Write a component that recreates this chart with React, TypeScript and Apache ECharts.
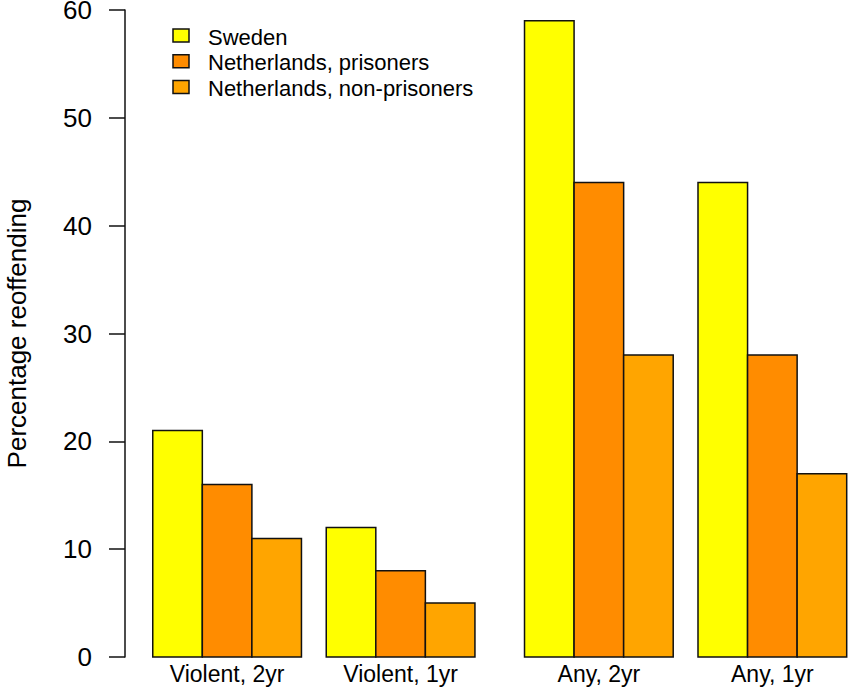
import React, { useEffect, useRef } from "react";
import * as echarts from "echarts";

const categories = ["Violent, 2yr", "Violent, 1yr", "Any, 2yr", "Any, 1yr"];
const seriesNames = ["Sweden", "Netherlands, prisoners", "Netherlands, non-prisoners"];
const sweden = [21, 12, 59, 44];
const nlPrisoners = [16, 8, 44, 28];
const nlNonPrisoners = [11, 5, 28, 17];
const colors = ["#FFFF00", "#FF8C00", "#FFA500"];
const yTicks = [0, 10, 20, 30, 40, 50, 60];

// layout (bar-width units): left edge of each group
const groupStart = [0, 3.5, 7.5, 11];
const groupCenters = groupStart.map((g) => g + 1.5);

const FONT = "'Liberation Sans', Arial, sans-serif";

export default function App() {
  const ref = useRef<HTMLDivElement>(null);
  useEffect(() => {
    if (!ref.current) return;
    const chart = echarts.init(ref.current, undefined, { renderer: "svg" });
    const allValues = [sweden, nlPrisoners, nlNonPrisoners];
    const series = allValues.map((vals, s) => ({
      type: "custom",
      name: seriesNames[s],
      encode: { x: 0, y: 1 },
      data: vals.map((v, i) => [i, v]),
      clip: false,
      renderItem: (params: any, api: any) => {
        const g = api.value(0);
        const v = api.value(1);
        const x0 = groupStart[g] + params.seriesIndex;
        const p1 = api.coord([x0, v]);
        const p2 = api.coord([x0 + 1, 0]);
        return {
          type: "rect",
          shape: { x: p1[0], y: p1[1], width: p2[0] - p1[0], height: p2[1] - p1[1] },
          style: { fill: colors[params.seriesIndex], stroke: "#111", lineWidth: 1.5 },
        };
      },
    }));

    const legendEls: any[] = [];
    seriesNames.forEach((name, i) => {
      const cy = 35.5 + i * 25.8;
      legendEls.push({
        type: "rect",
        shape: { x: 173, y: cy - 6.5, width: 16, height: 13 },
        style: { fill: colors[i], stroke: "#111", lineWidth: 1.5 },
      });
      legendEls.push({
        type: "text",
        x: 208,
        y: cy + 1.5,
        style: {
          text: name,
          fill: "#000",
          font: `22px ${FONT}`,
          textVerticalAlign: "middle",
          verticalAlign: "middle",
        },
      });
    });

    chart.setOption({
      animation: false,
      backgroundColor: "#fff",
      grid: {
        left: 125,
        right: 1.3,
        top: 10,
        bottom: 32,
        containLabel: false,
        outerBoundsMode: "none",
      },
      xAxis: {
        type: "value",
        min: -0.56,
        max: 14,
        splitLine: { show: false },
        axisLine: { show: false, onZero: false },
        axisTick: { show: false },
        axisLabel: {
          customValues: groupCenters,
          formatter: (v: number) => {
            const idx = groupCenters.findIndex((c) => Math.abs(c - v) < 1e-6);
            return idx >= 0 ? categories[idx] : "";
          },
          color: "#000",
          fontSize: 23,
          fontFamily: FONT,
          margin: 5,
        },
      },
      yAxis: {
        type: "value",
        min: yTicks[0],
        max: yTicks[yTicks.length - 1],
        interval: 10,
        name: "Percentage reoffending",
        nameLocation: "middle",
        nameRotate: 90,
        nameGap: 97,
        nameMoveOverlap: false,
        nameTextStyle: { color: "#000", fontSize: 26, fontFamily: FONT, lineHeight: 22 },
        splitLine: { show: false },
        axisLine: { show: true, onZero: false, lineStyle: { color: "#111", width: 1.5 } },
        axisTick: { show: true, length: 16, lineStyle: { color: "#111", width: 1.5 } },
        axisLabel: {
          color: "#000",
          fontSize: 26,
          fontFamily: FONT,
          margin: 33,
          lineHeight: 18,
        },
      },
      graphic: legendEls,
      series,
    });
    return () => chart.dispose();
  }, []);
  return (
    <div
      ref={ref}
      style={{ position: "absolute", left: 0, top: 0, width: 848, height: 689 }}
    />
  );
}
